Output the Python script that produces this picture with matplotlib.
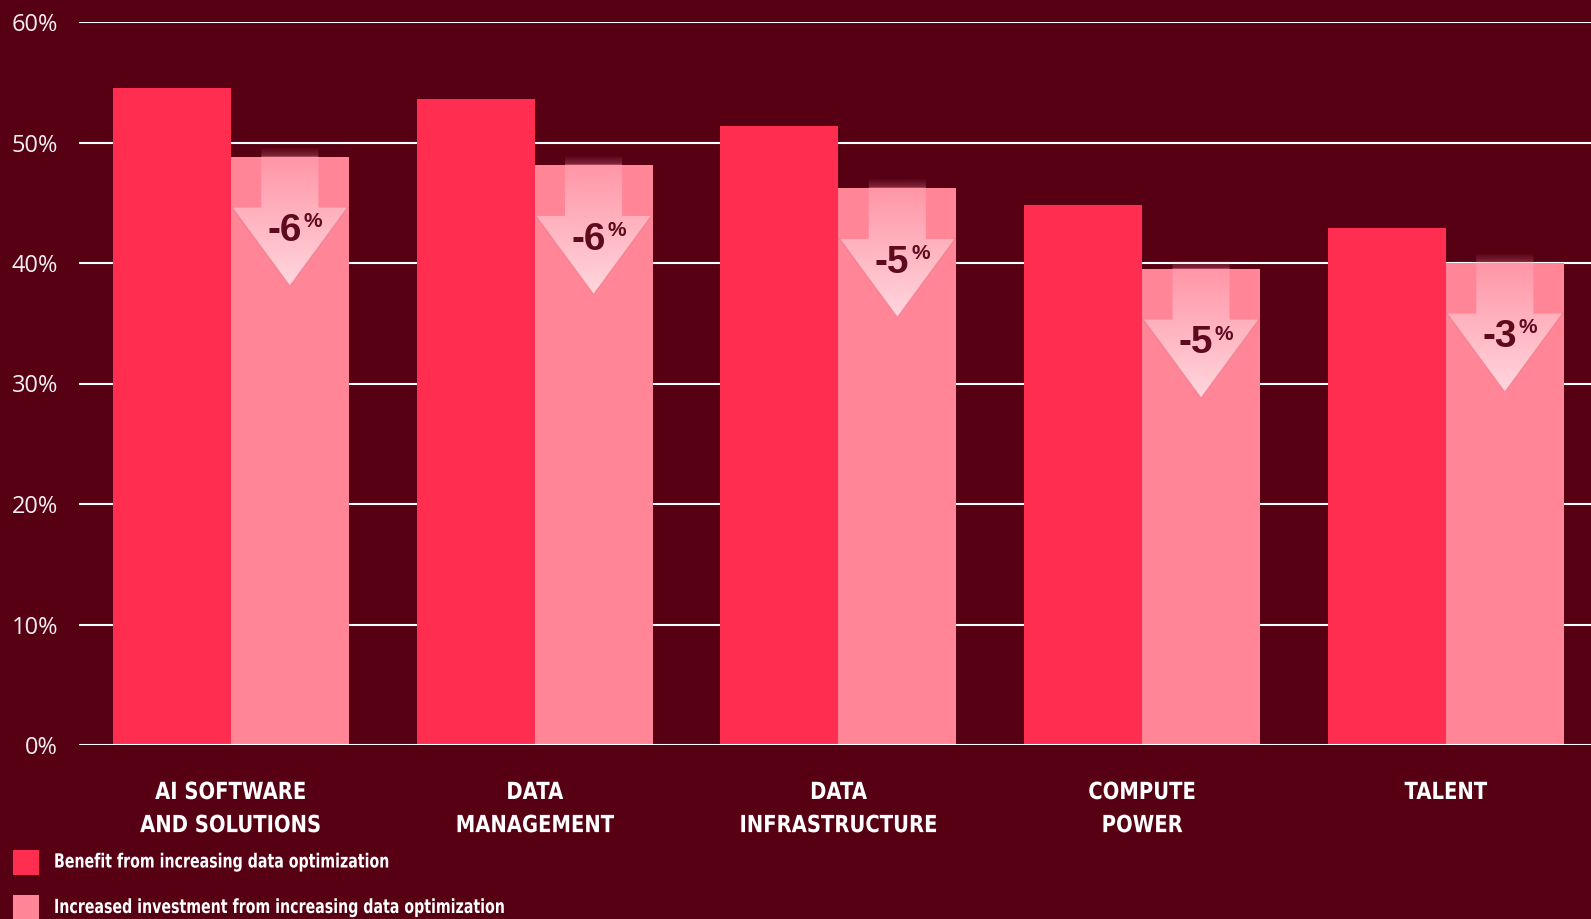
import numpy as np
import matplotlib
matplotlib.use("Agg")
import matplotlib.pyplot as plt
from matplotlib.patches import Polygon, Rectangle
from matplotlib.colors import to_rgb
from matplotlib.patheffects import AbstractPathEffect
import matplotlib.transforms as mtransforms

categories = ["AI SOFTWARE\nAND SOLUTIONS", "DATA\nMANAGEMENT", "DATA\nINFRASTRUCTURE",
              "COMPUTE\nPOWER", "TALENT"]
benefit = [54.5, 53.6, 51.4, 44.8, 42.9]
investment = [48.8, 48.1, 46.2, 39.5, 40.0]
change_labels = ["-6", "-6", "-5", "-5", "-3"]
yticks = [0, 10, 20, 30, 40, 50, 60]
ytick_labels = ["0%", "10%", "20%", "30%", "40%", "50%", "60%"]
legend_labels = ["Benefit from increasing data optimization",
                 "Increased investment from increasing data optimization"]

BG = "#570014"
RED = "#ff2d50"
PINK = "#ff8597"
TXT = "#5c0a1c"


class Condense(AbstractPathEffect):
    """Horizontally condense glyphs (text stays a real Text artist)."""

    def __init__(self, sx, anchor="center"):
        super().__init__()
        self.sx = sx
        self.anchor = anchor

    def draw_path(self, renderer, gc, tpath, affine, rgbFace=None):
        ext = tpath.get_extents()
        if self.anchor == "center":
            ax0 = (ext.x0 + ext.x1) / 2
        else:
            ax0 = 0.0
        t = (mtransforms.Affine2D().translate(-ax0, 0).scale(self.sx, 1)
             .translate(ax0, 0) + affine)
        renderer.draw_path(gc, tpath, t, rgbFace)


W, H = 1591, 919
fig = plt.figure(figsize=(W / 100, H / 100), dpi=100, facecolor=BG)
ax = fig.add_axes([79 / W, 1 - 745 / H, 1 - 79 / W, (745 - 22) / H])
ax.set_facecolor(BG)
for s in ax.spines.values():
    s.set_visible(False)

x = np.arange(len(categories))
bw = 0.3885
ax.bar(x - bw / 2, benefit, bw, color=RED, zorder=2, linewidth=0)
ax.bar(x + bw / 2, investment, bw, color=PINK, zorder=2, linewidth=0)

for yv in yticks:
    ax.axhline(yv, color="white", lw=1.5, zorder=1 if yv else 5)

ax.set_yticks(yticks)
ax.set_yticklabels(ytick_labels, fontsize=17, color="#f6eef0", family="Open Sans")
ax.set_xticks([])
ax.tick_params(axis="y", length=0, pad=15)

# arrows
c1 = np.array(to_rgb("#ff96a7"))
c2 = np.array(to_rgb("#ffd6dd"))
for i in range(len(categories)):
    cx = x[i] + bw / 2
    top = investment[i]
    sh, hh = 0.094, 0.19
    ys, yh, yt = top + 0.8, top - 4.2, top - 10.7
    poly = [(cx - sh, ys), (cx + sh, ys), (cx + sh, yh), (cx + hh, yh), (cx, yt),
            (cx - hh, yh), (cx - sh, yh)]
    patch = Polygon(poly, closed=True, facecolor="none", edgecolor="none")
    ax.add_patch(patch)
    n = 300
    yy = np.linspace(ys, yt, n)
    arr = np.zeros((n, 2, 4))
    for k, yv in enumerate(yy):
        if yv > top:
            a = 0.28 * (1 - (yv - top) / 0.8)
            col = c1
        else:
            t = (top - yv) / (top - yt)
            col = c1 * (1 - t) + c2 * t
            a = 1.0
        arr[k, :, :3] = col
        arr[k, :, 3] = a
    im = ax.imshow(arr, extent=[cx - hh, cx + hh, yt, ys], aspect="auto",
                   zorder=3, interpolation="bilinear")
    im.set_clip_path(patch)
    ax.plot([cx - hh, cx, cx + hh], [yh, yt, yh], color="#d86678", alpha=0.35,
            lw=1.0, zorder=3.5)
    ax.text(cx + 0.04, top - 7.0, change_labels[i], ha="right", va="baseline",
            fontsize=28, fontweight="bold", color=TXT, family="Liberation Sans",
            zorder=4)
    ax.text(cx + 0.045, top - 5.85, "%", ha="left", va="baseline",
            fontsize=15, fontweight="bold", color=TXT, family="Liberation Sans",
            zorder=4)

ax.set_xlim(-0.5, 4.478)
ax.set_ylim(0, 60)

trans = mtransforms.blended_transform_factory(ax.transData, fig.transFigure)
for i, cat in enumerate(categories):
    ax.text(x[i], 1 - 780 / H, cat, ha="center", va="top", fontsize=17,
            fontweight="bold", color="white", linespacing=1.48,
            family="DejaVu Sans", transform=trans,
            path_effects=[Condense(0.83, "center")])

# legend
for j, (lab, col) in enumerate(zip(legend_labels, [RED, PINK])):
    yc = [862, 907.5][j]
    fig.add_artist(Rectangle((13 / W, 1 - (yc + 12.5) / H), 26 / W, 25 / H,
                             transform=fig.transFigure, color=col, lw=0))
    fig.text(54 / W, 1 - yc / H, lab, ha="left", va="center", fontsize=14,
             fontweight="bold", color="white", family="DejaVu Sans",
             path_effects=[Condense(0.73, "left")])

fig.savefig("out.png", dpi=100, facecolor=BG)
